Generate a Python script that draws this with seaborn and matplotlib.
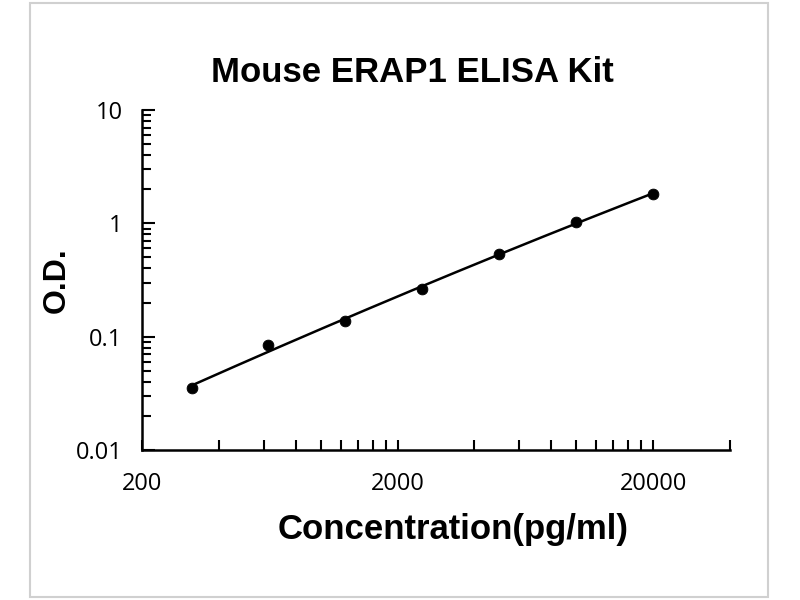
import numpy as np
import pandas as pd
import matplotlib
matplotlib.use("Agg")
import matplotlib.pyplot as plt
import matplotlib.ticker as mticker
import seaborn as sns

conc = [312.5, 625, 1250, 2500, 5000, 10000, 20000]
od = [0.035, 0.084, 0.138, 0.262, 0.540, 1.03, 1.82]
x_major = [200, 2000, 20000]
x_labels = ["200", "2000", "20000"]
y_major = [0.01, 0.1, 1, 10]
y_labels = ["0.01", "0.1", "1", "10"]

df = pd.DataFrame({"conc": conc, "od": od})

sns.set_theme(style="white")
plt.rcParams['font.family'] = ['Liberation Sans', 'DejaVu Sans']
plt.rcParams['text.color'] = 'black'
plt.rcParams['axes.labelcolor'] = 'black'
plt.rcParams['xtick.color'] = 'black'
plt.rcParams['ytick.color'] = 'black'

fig = plt.figure(figsize=(8, 6), dpi=100)
fig.patches.append(plt.Rectangle((30/800, 3/600), 738/800, 594/600, transform=fig.transFigure,
                                 fill=False, edgecolor="#d0d0d0", linewidth=1.5))
ax = fig.add_axes([142/800, 0.25, (730-142)/800, (450-110)/600])

# fitted curve in log-log space
lx = np.log10(df["conc"].values)
ly = np.log10(df["od"].values)
coef = np.polyfit(lx, ly, 2)
xs = np.geomspace(conc[0], conc[-1], 200)
ys = 10 ** np.polyval(coef, np.log10(xs))
sns.lineplot(x=xs, y=ys, ax=ax, color="black", linewidth=1.8)
sns.scatterplot(data=df, x="conc", y="od", ax=ax, color="black", s=60, edgecolor="black", zorder=3)

ax.set_xscale("log")
ax.set_yscale("log")
ax.set_xlim(200, 40000)
ax.set_ylim(0.01, 10)

ax.set_xticks(x_major + [40000])
ax.set_xticklabels(x_labels + [""])
xminor = [m * d for d in (200, 2000) for m in range(2, 10)]
ax.xaxis.set_minor_locator(mticker.FixedLocator(xminor))
ax.xaxis.set_minor_formatter(mticker.NullFormatter())
ax.set_yticks(y_major)
ax.set_yticklabels(y_labels)
ax.yaxis.set_minor_locator(mticker.LogLocator(base=10, subs=np.arange(2, 10)))
ax.yaxis.set_minor_formatter(mticker.NullFormatter())

for s in ["top", "right"]:
    ax.spines[s].set_visible(False)
for s in ["left", "bottom"]:
    ax.spines[s].set_color("black")
    ax.spines[s].set_linewidth(1.8)

ax.tick_params(axis="x", which="both", direction="in", length=7, width=1.5, color="black",
               labelcolor="black", bottom=True, pad=16, labelsize=17)
ax.tick_params(axis="y", which="major", direction="in", length=9, width=1.5, color="black",
               labelcolor="black", left=True, pad=14, labelsize=17)
ax.tick_params(axis="y", which="minor", direction="in", length=6.5, width=1.5, color="black",
               left=True)
for t in ax.get_xticklabels() + ax.get_yticklabels():
    t.set_fontfamily(['Open Sans', 'DejaVu Sans'])

ax.set_xlabel("Concentration(pg/ml)", fontsize=25, fontweight="bold", color="black")
ax.xaxis.label.set_va("center")
ax.xaxis.set_label_coords((453 - 142) / 588, (450 - 530) / 340)
ax.set_ylabel("O.D.", fontsize=23, fontweight="bold", color="black")
ax.yaxis.label.set_va("center")
ax.yaxis.set_label_coords((57 - 142) / 588, (450 - 280) / 340)
fig.text(412/800, 1 - 72/600, "Mouse ERAP1 ELISA Kit", ha="center", va="center",
         fontsize=25, fontweight="bold", color="black")

fig.savefig("out.png", dpi=100)
